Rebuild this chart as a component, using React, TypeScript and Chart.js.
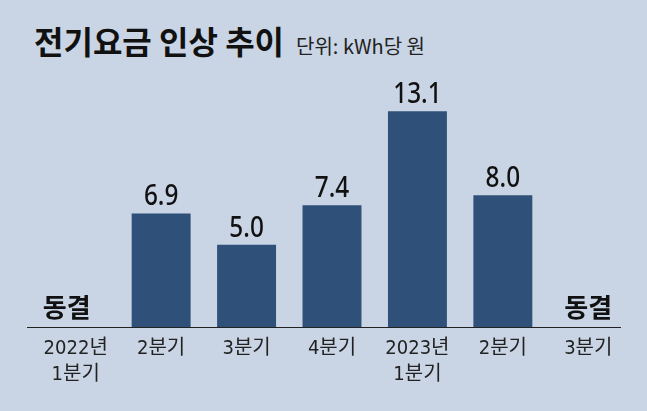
import React, { useEffect, useRef } from "react";
import { Chart, registerables } from "chart.js";

Chart.register(...registerables);

const categories: string[][] = [
  ["2022년", "1분기"],
  ["2분기"],
  ["3분기"],
  ["4분기"],
  ["2023년", "1분기"],
  ["2분기"],
  ["3분기"],
];
const values: (number | null)[] = [null, 6.9, 5.0, 7.4, 13.1, 8.0, null];
const valueLabels: string[] = ["동결", "6.9", "5.0", "7.4", "13.1", "8.0", "동결"];
const title = "전기요금 인상 추이";
const unit = "단위: kWh당 원";

const BG = "#c9d5e4";
const BAR = "#2f5078";
const NARROW = "'Liberation Sans Narrow', 'DejaVu Sans Condensed', 'Noto Sans CJK KR', sans-serif";
const KR = "'Noto Sans CJK KR', sans-serif";

export default function App() {
  const ref = useRef<HTMLCanvasElement | null>(null);
  useEffect(() => {
    if (!ref.current) return;
    const labelPlugin = {
      id: "labels",
      afterDatasetsDraw(chart: any) {
        const ctx = chart.ctx;
        const meta = chart.getDatasetMeta(0);
        const xs = chart.scales.x;
        const ys = chart.scales.y;
        ctx.save();
        ctx.textAlign = "center";
        ctx.textBaseline = "alphabetic";
        ctx.fillStyle = "#111";
        valueLabels.forEach((t, i) => {
          const v = values[i];
          const x = xs.getPixelForValue(i);
          if (v == null) {
            ctx.font = `bold 26px ${KR}`;
            ctx.fillText(t, x - (i === 0 ? 9 : 0), ys.getPixelForValue(0) - 10);
          } else {
            const el = meta.data[i];
            ctx.save();
            ctx.translate(el.x, el.y - 8);
            ctx.scale(0.84, 1);
            ctx.font = `500 29px 'Noto Sans', sans-serif`;
            ctx.fillText(t, 0, 0);
            ctx.restore();
          }
        });
        // baseline
        const yb = ys.getPixelForValue(0);
        ctx.strokeStyle = "#222";
        ctx.lineWidth = 1;
        ctx.beginPath();
        ctx.moveTo(27, Math.round(yb) + 0.5);
        ctx.lineTo(621, Math.round(yb) + 0.5);
        ctx.stroke();
        ctx.restore();
      },
    };
    const chart = new Chart(ref.current, {
      type: "bar",
      data: {
        labels: categories,
        datasets: [
          {
            data: values,
            backgroundColor: BAR,
            barPercentage: 0.69,
            categoryPercentage: 1,
          },
        ],
      },
      options: {
        animation: false,
        responsive: false,
        layout: { padding: { left: 33, right: 16, top: 80, bottom: 14 } },
        plugins: { legend: { display: false }, tooltip: { enabled: false } },
        scales: {
          x: {
            grid: { display: false, drawTicks: false },
            border: { display: false },
            ticks: {
              color: "#222",
              font: { family: NARROW, size: 20, lineHeight: 1.3 },
              padding: 9,
              maxRotation: 0,
              autoSkip: false,
            },
          },
          y: {
            display: false,
            min: 0,
            max: 15,
          },
        },
      },
      plugins: [labelPlugin],
    });
    return () => chart.destroy();
  }, []);
  return (
    <div
      style={{
        position: "fixed",
        left: 0,
        top: 0,
        width: 647,
        height: 411,
        background: BG,
        overflow: "hidden",
      }}
    >
      <div
        style={{
          position: "absolute",
          left: 34,
          top: 17,
          whiteSpace: "nowrap",
          color: "#111",
        }}
      >
        <span style={{ fontFamily: KR, fontWeight: 700, fontSize: 32 }}>{title}</span>
        <span style={{ fontFamily: KR, fontSize: 20, marginLeft: 12, color: "#222" }}>{unit}</span>
      </div>
      <canvas ref={ref} width={647} height={411} style={{ position: "absolute", left: 0, top: 0 }} />
    </div>
  );
}
